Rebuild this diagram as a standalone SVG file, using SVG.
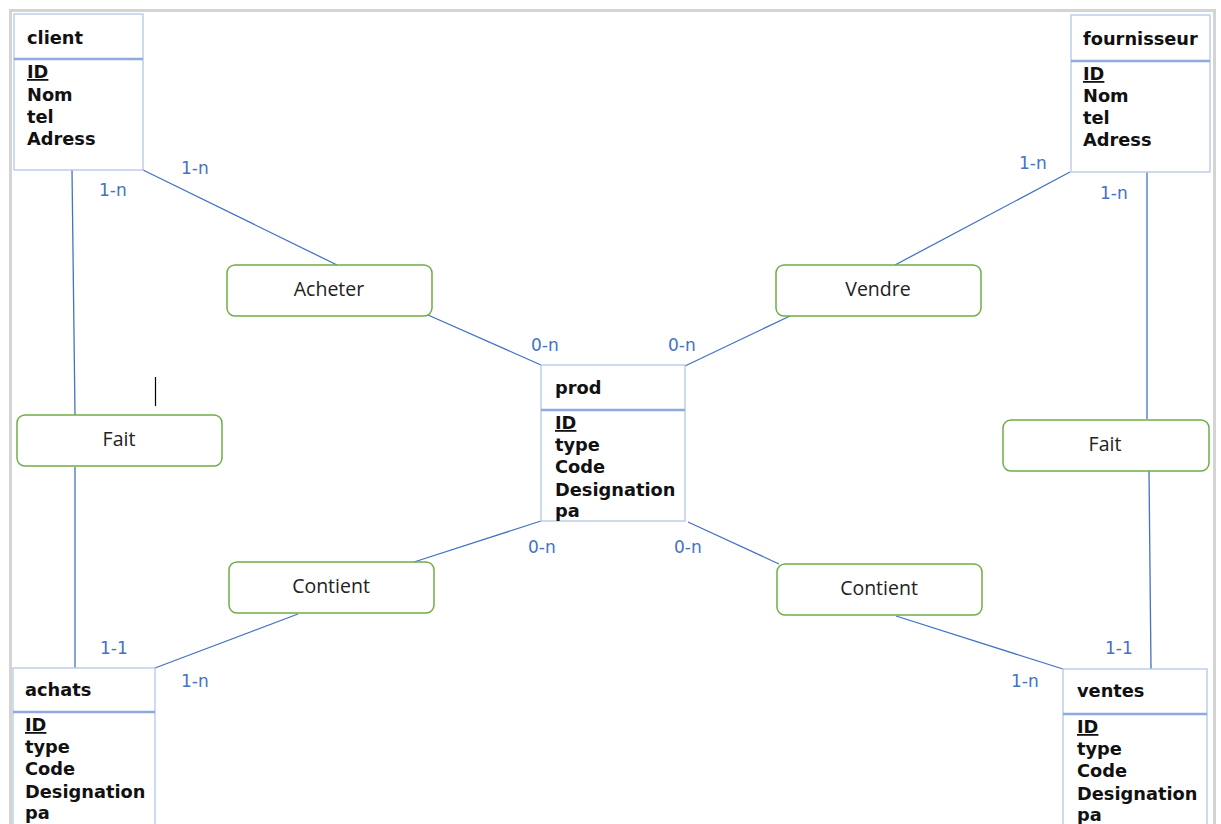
<svg xmlns="http://www.w3.org/2000/svg" width="1221" height="824" viewBox="0 0 1221 824">
<style>
.ent{fill:#fff;stroke:#b4c7e7;stroke-width:1.3}
.sep{stroke:#8faadc;stroke-width:2.4}
.et{font-family:"DejaVu Sans",Verdana,sans-serif;font-weight:bold;font-size:17.8px;fill:#111}
.rel{fill:#fff;stroke:#70ad47;stroke-width:1.5}
.rt{font-family:"Open Sans","Liberation Sans",sans-serif;font-size:19.5px;fill:#222;text-anchor:middle}
.card{font-family:"DejaVu Sans",Verdana,sans-serif;font-size:17px;fill:#4472c4}
.conn line{stroke:#4472c4;stroke-width:1.3}
.u{text-decoration:underline}
</style>
<rect x="0" y="0" width="1221" height="824" fill="#fff"/>
<rect x="10.5" y="10.5" width="1204" height="830" fill="none" stroke="#d4d4d4" stroke-width="3"/>
<g id="connectors" class="conn">
<line x1="143" y1="170" x2="337" y2="265"/>
<line x1="428" y1="315" x2="541" y2="365"/>
<line x1="72" y1="170" x2="75" y2="415"/>
<line x1="75" y1="467" x2="75" y2="668"/>
<line x1="155" y1="668" x2="298" y2="614"/>
<line x1="414" y1="562" x2="541" y2="521"/>
<line x1="688" y1="522" x2="779" y2="564"/>
<line x1="896" y1="616" x2="1063" y2="669"/>
<line x1="1151" y1="669" x2="1149" y2="471"/>
<line x1="1147" y1="419" x2="1147" y2="172"/>
<line x1="1070" y1="172" x2="895" y2="265"/>
<line x1="790" y1="316" x2="685" y2="366"/>
</g>
<g id="client">
<rect class="ent" x="14" y="14" width="129" height="156"/>
<line class="sep" x1="14" y1="59" x2="143" y2="59"/>
<text class="et" x="27" y="44">client</text>
<text class="et u" x="27" y="78">ID</text>
<text class="et" x="27" y="101">Nom</text>
<text class="et" x="27" y="123">tel</text>
<text class="et" x="27" y="145">Adress</text>
</g>
<g id="fournisseur">
<rect class="ent" x="1071" y="15" width="139" height="157"/>
<line class="sep" x1="1071" y1="61" x2="1210" y2="61"/>
<text class="et" x="1083" y="45">fournisseur</text>
<text class="et u" x="1083" y="80">ID</text>
<text class="et" x="1083" y="102">Nom</text>
<text class="et" x="1083" y="124">tel</text>
<text class="et" x="1083" y="146">Adress</text>
</g>
<g id="prod">
<rect class="ent" x="541" y="365" width="144" height="156"/>
<line class="sep" x1="541" y1="410" x2="685" y2="410"/>
<text class="et" x="555" y="394">prod</text>
<text class="et u" x="555" y="429">ID</text>
<text class="et" x="555" y="451">type</text>
<text class="et" x="555" y="473">Code</text>
<text class="et" x="555" y="496">Designation</text>
<text class="et" x="555" y="517">pa</text>
</g>
<g id="achats">
<rect class="ent" x="13" y="668" width="142" height="170"/>
<line class="sep" x1="13" y1="712" x2="155" y2="712"/>
<text class="et" x="25" y="696">achats</text>
<text class="et u" x="25" y="731">ID</text>
<text class="et" x="25" y="753">type</text>
<text class="et" x="25" y="775">Code</text>
<text class="et" x="25" y="798">Designation</text>
<text class="et" x="25" y="819">pa</text>
</g>
<g id="ventes">
<rect class="ent" x="1063" y="669" width="144" height="170"/>
<line class="sep" x1="1063" y1="714" x2="1207" y2="714"/>
<text class="et" x="1077" y="697">ventes</text>
<text class="et u" x="1077" y="733">ID</text>
<text class="et" x="1077" y="755">type</text>
<text class="et" x="1077" y="777">Code</text>
<text class="et" x="1077" y="800">Designation</text>
<text class="et" x="1077" y="821">pa</text>
</g>
<g id="acheter">
<rect class="rel" x="227" y="265" width="205" height="51" rx="8"/>
<text class="rt" x="329" y="296">Acheter</text>
</g>
<g id="vendre">
<rect class="rel" x="776" y="265" width="205" height="51" rx="8"/>
<text class="rt" x="878" y="296">Vendre</text>
</g>
<g id="fait-client">
<rect class="rel" x="17" y="415" width="205" height="51" rx="8"/>
<text class="rt" x="119" y="446">Fait</text>
</g>
<g id="fait-fournisseur">
<rect class="rel" x="1003" y="420" width="206" height="51" rx="8"/>
<text class="rt" x="1105" y="451">Fait</text>
</g>
<g id="contient-achats">
<rect class="rel" x="229" y="562" width="205" height="51" rx="8"/>
<text class="rt" x="331" y="593">Contient</text>
</g>
<g id="contient-ventes">
<rect class="rel" x="777" y="564" width="205" height="51" rx="8"/>
<text class="rt" x="879" y="595">Contient</text>
</g>
<g id="cardinalities">
<text class="card" x="181" y="174">1-n</text>
<text class="card" x="99" y="196">1-n</text>
<text class="card" x="1019" y="169">1-n</text>
<text class="card" x="1100" y="199">1-n</text>
<text class="card" x="531" y="351">0-n</text>
<text class="card" x="668" y="351">0-n</text>
<text class="card" x="528" y="553">0-n</text>
<text class="card" x="674" y="553">0-n</text>
<text class="card" x="100" y="654">1-1</text>
<text class="card" x="181" y="687">1-n</text>
<text class="card" x="1105" y="654">1-1</text>
<text class="card" x="1011" y="687">1-n</text>
</g>
<line x1="155.5" y1="377" x2="155.5" y2="406" stroke="#000" stroke-width="1.2"/>
</svg>
